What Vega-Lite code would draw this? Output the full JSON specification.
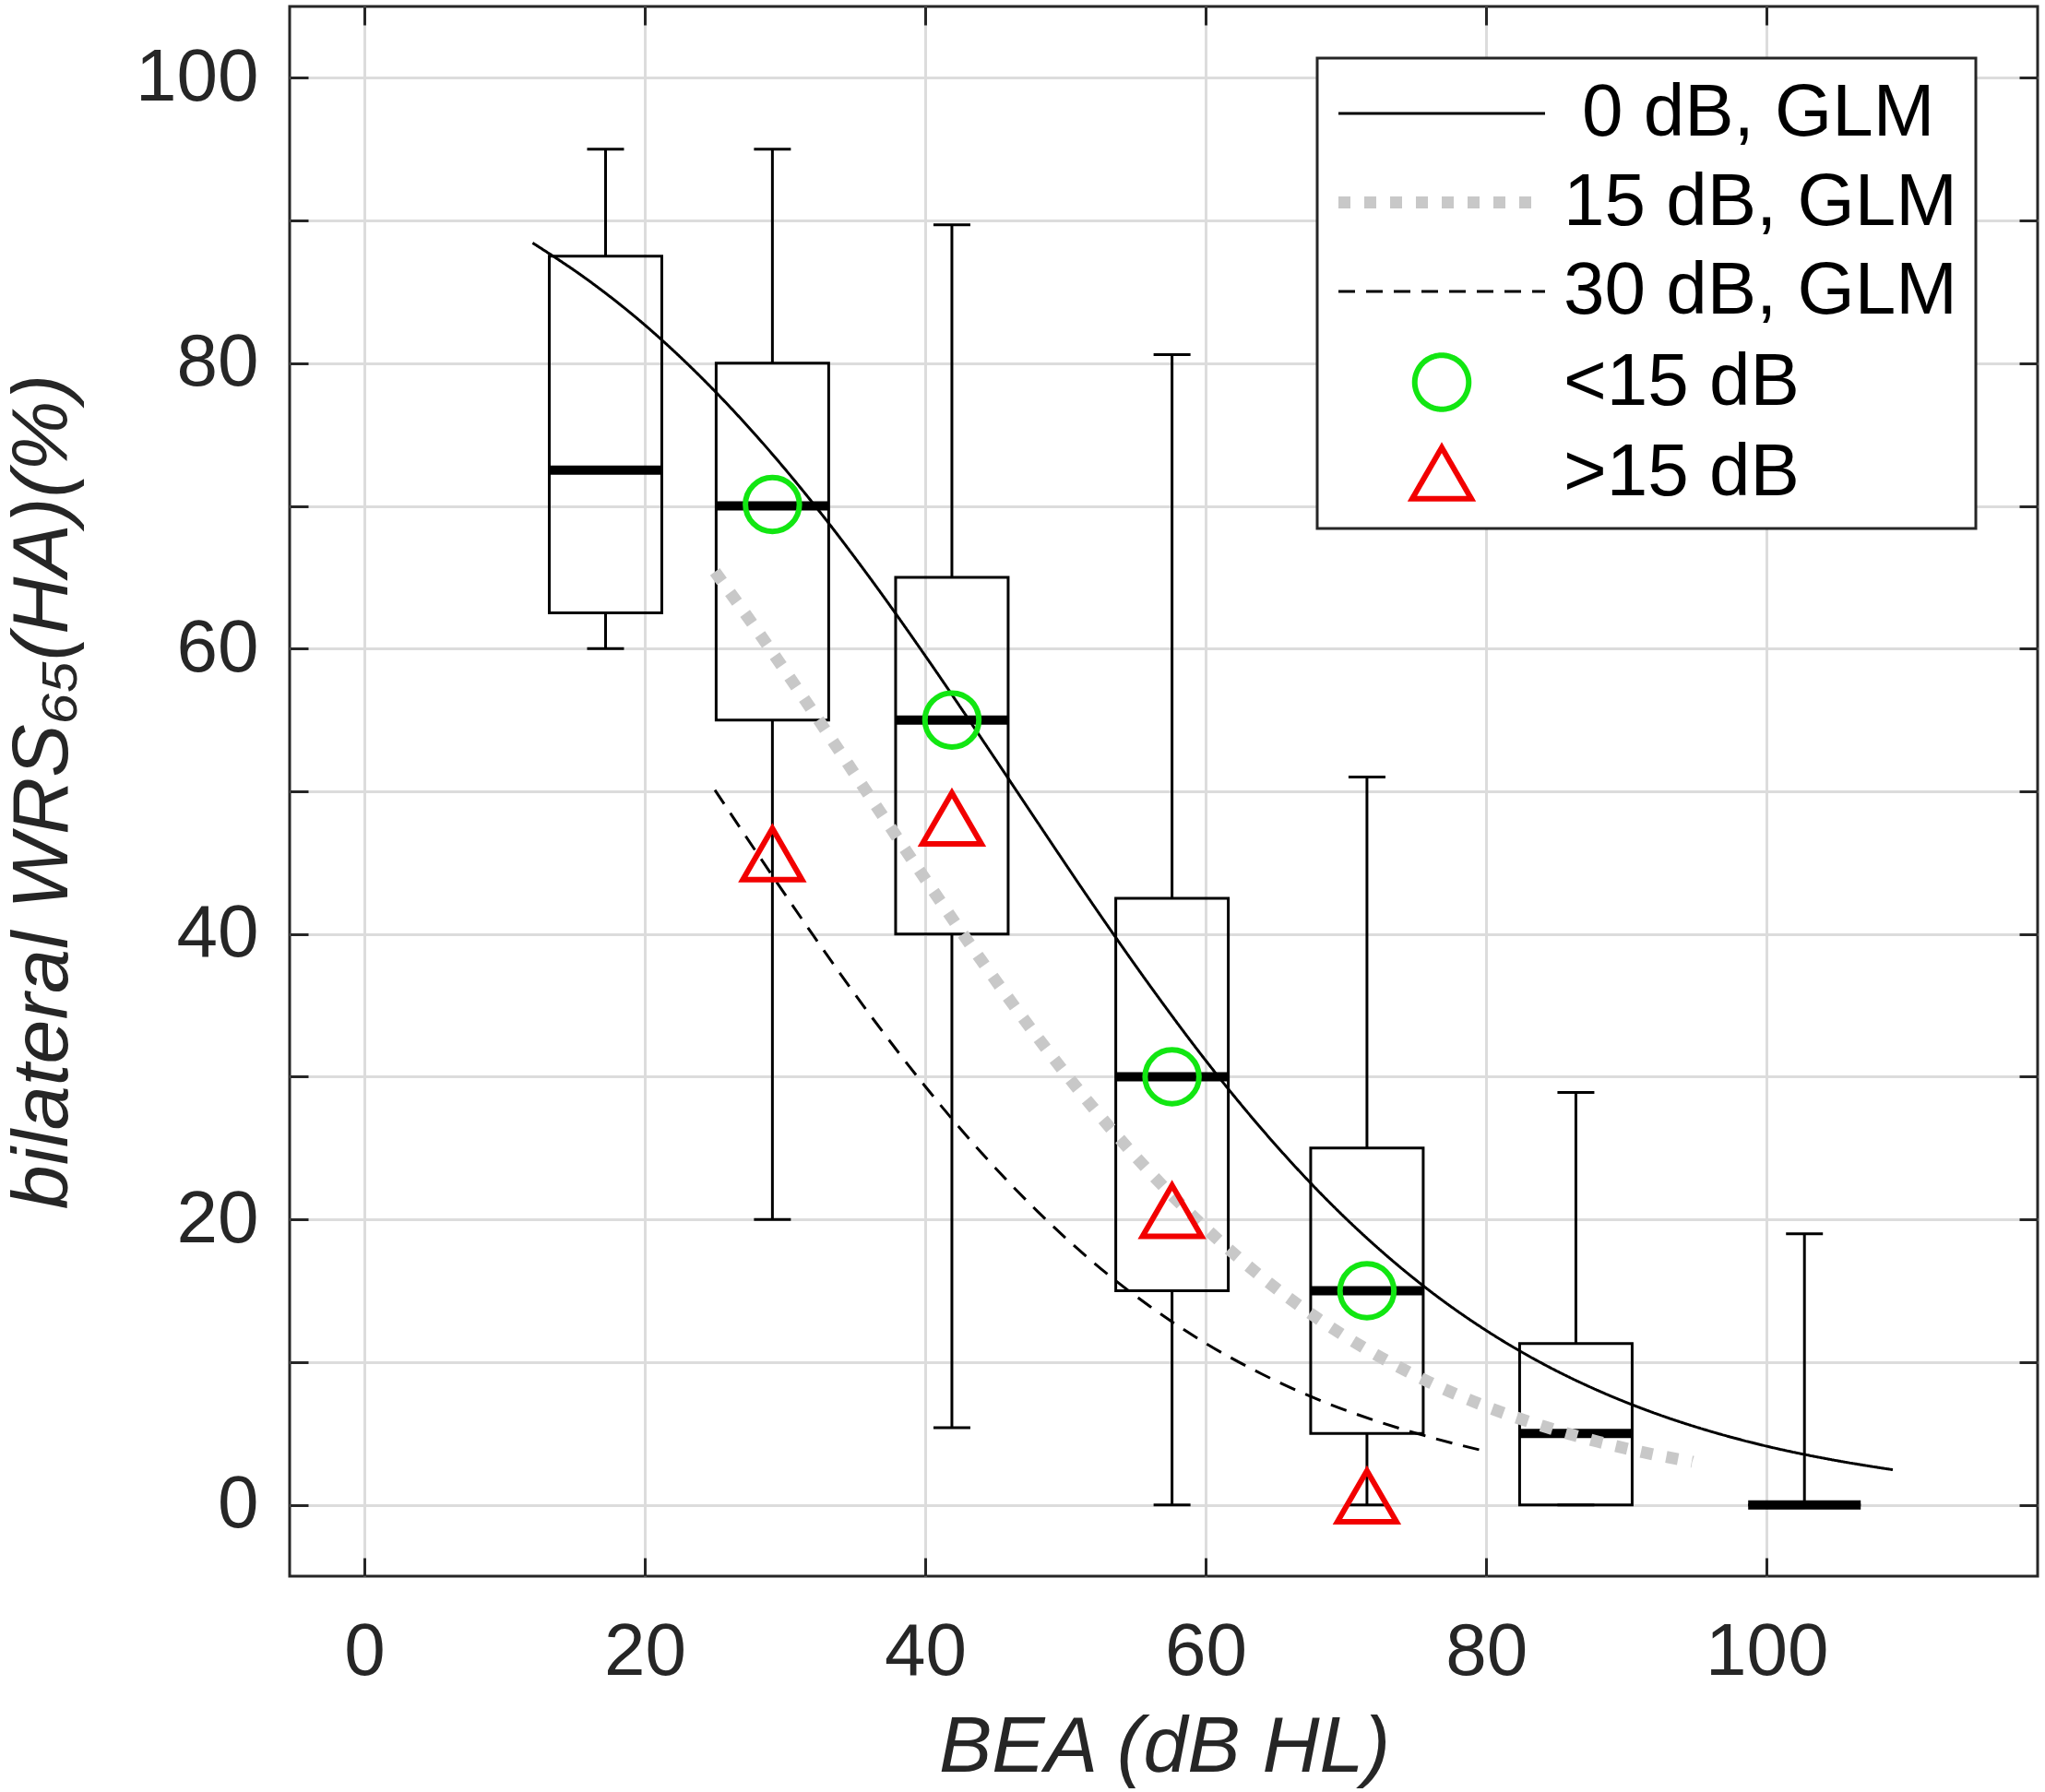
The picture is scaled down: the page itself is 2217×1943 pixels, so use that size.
{
  "$schema": "https://vega.github.io/schema/vega-lite/v6.json",
  "width": 1895,
  "height": 1702,
  "autosize": {"type": "none"},
  "padding": {"left": 314, "top": 7, "right": 8, "bottom": 234},
  "background": "white",
  "datasets": {
    "boxes": [
      {"bea": 17.2, "lo": 60, "q1": 62.5, "med": 72.5, "q3": 87.5, "hi": 95},
      {"bea": 29.1, "lo": 20, "q1": 55, "med": 70, "q3": 80, "hi": 95},
      {"bea": 41.9, "lo": 5.4, "q1": 40, "med": 55, "q3": 65, "hi": 89.7},
      {"bea": 57.6, "lo": 0, "q1": 15, "med": 30, "q3": 42.5, "hi": 80.6},
      {"bea": 71.5, "lo": 0, "q1": 5, "med": 15, "q3": 25, "hi": 51},
      {"bea": 86.4, "lo": 0, "q1": 0, "med": 5, "q3": 11.3, "hi": 28.9},
      {"bea": 102.7, "lo": 0, "q1": 0, "med": 0, "q3": 0, "hi": 19}
    ],
    "markers": [
      {"series": "<15 dB", "bea": 29.1, "wrs": 70.1},
      {"series": "<15 dB", "bea": 41.9, "wrs": 55},
      {"series": "<15 dB", "bea": 57.6, "wrs": 30},
      {"series": "<15 dB", "bea": 71.5, "wrs": 15},
      {"series": ">15 dB", "bea": 29.1, "wrs": 45.6},
      {"series": ">15 dB", "bea": 41.9, "wrs": 48.1},
      {"series": ">15 dB", "bea": 57.6, "wrs": 20.6},
      {"series": ">15 dB", "bea": 71.5, "wrs": 0.6}
    ],
    "curves": [
      {"series": "0 dB, GLM", "bea": 12, "wrs": 88.43},
      {"series": "0 dB, GLM", "bea": 16, "wrs": 85.79},
      {"series": "0 dB, GLM", "bea": 20, "wrs": 82.68},
      {"series": "0 dB, GLM", "bea": 24, "wrs": 79.03},
      {"series": "0 dB, GLM", "bea": 28, "wrs": 74.86},
      {"series": "0 dB, GLM", "bea": 32, "wrs": 70.18},
      {"series": "0 dB, GLM", "bea": 36, "wrs": 65.03},
      {"series": "0 dB, GLM", "bea": 40, "wrs": 59.5},
      {"series": "0 dB, GLM", "bea": 44, "wrs": 53.72},
      {"series": "0 dB, GLM", "bea": 48, "wrs": 47.84},
      {"series": "0 dB, GLM", "bea": 52, "wrs": 42.01},
      {"series": "0 dB, GLM", "bea": 56, "wrs": 36.41},
      {"series": "0 dB, GLM", "bea": 60, "wrs": 31.14},
      {"series": "0 dB, GLM", "bea": 64, "wrs": 26.33},
      {"series": "0 dB, GLM", "bea": 68, "wrs": 22.02},
      {"series": "0 dB, GLM", "bea": 72, "wrs": 18.24},
      {"series": "0 dB, GLM", "bea": 76, "wrs": 14.98},
      {"series": "0 dB, GLM", "bea": 80, "wrs": 12.22},
      {"series": "0 dB, GLM", "bea": 84, "wrs": 9.91},
      {"series": "0 dB, GLM", "bea": 88, "wrs": 8.0},
      {"series": "0 dB, GLM", "bea": 92, "wrs": 6.43},
      {"series": "0 dB, GLM", "bea": 96, "wrs": 5.15},
      {"series": "0 dB, GLM", "bea": 100, "wrs": 4.11},
      {"series": "0 dB, GLM", "bea": 104, "wrs": 3.28},
      {"series": "0 dB, GLM", "bea": 108, "wrs": 2.61},
      {"series": "0 dB, GLM", "bea": 109, "wrs": 2.46},
      {"series": "15 dB, GLM", "bea": 25, "wrs": 65.39},
      {"series": "15 dB, GLM", "bea": 28, "wrs": 61.29},
      {"series": "15 dB, GLM", "bea": 32, "wrs": 55.57},
      {"series": "15 dB, GLM", "bea": 36, "wrs": 49.7},
      {"series": "15 dB, GLM", "bea": 40, "wrs": 43.85},
      {"series": "15 dB, GLM", "bea": 44, "wrs": 38.15},
      {"series": "15 dB, GLM", "bea": 48, "wrs": 32.77},
      {"series": "15 dB, GLM", "bea": 52, "wrs": 27.8},
      {"series": "15 dB, GLM", "bea": 56, "wrs": 23.33},
      {"series": "15 dB, GLM", "bea": 60, "wrs": 19.38},
      {"series": "15 dB, GLM", "bea": 64, "wrs": 15.96},
      {"series": "15 dB, GLM", "bea": 68, "wrs": 13.05},
      {"series": "15 dB, GLM", "bea": 72, "wrs": 10.6},
      {"series": "15 dB, GLM", "bea": 76, "wrs": 8.57},
      {"series": "15 dB, GLM", "bea": 80, "wrs": 6.89},
      {"series": "15 dB, GLM", "bea": 84, "wrs": 5.53},
      {"series": "15 dB, GLM", "bea": 88, "wrs": 4.42},
      {"series": "15 dB, GLM", "bea": 92, "wrs": 3.52},
      {"series": "15 dB, GLM", "bea": 94.7, "wrs": 3.02},
      {"series": "30 dB, GLM", "bea": 25, "wrs": 50.09},
      {"series": "30 dB, GLM", "bea": 28, "wrs": 45.68},
      {"series": "30 dB, GLM", "bea": 32, "wrs": 39.92},
      {"series": "30 dB, GLM", "bea": 36, "wrs": 34.42},
      {"series": "30 dB, GLM", "bea": 40, "wrs": 29.32},
      {"series": "30 dB, GLM", "bea": 44, "wrs": 24.68},
      {"series": "30 dB, GLM", "bea": 48, "wrs": 20.57},
      {"series": "30 dB, GLM", "bea": 52, "wrs": 16.98},
      {"series": "30 dB, GLM", "bea": 56, "wrs": 13.92},
      {"series": "30 dB, GLM", "bea": 60, "wrs": 11.32},
      {"series": "30 dB, GLM", "bea": 64, "wrs": 9.17},
      {"series": "30 dB, GLM", "bea": 68, "wrs": 7.38},
      {"series": "30 dB, GLM", "bea": 72, "wrs": 5.93},
      {"series": "30 dB, GLM", "bea": 76, "wrs": 4.74},
      {"series": "30 dB, GLM", "bea": 80, "wrs": 3.74}
    ]
  },
  "layer": [
    {
      "layer": [
        {
          "data": {"name": "boxes"},
          "mark": {"type": "bar", "size": 122, "fillOpacity": 0, "stroke": "black", "strokeWidth": 3},
          "encoding": {
            "x": {
              "field": "bea", "type": "quantitative",
              "scale": {"domain": [-5, 119], "nice": false, "zero": false},
              "axis": {
                "orient": "bottom",
                "values": [0, 20, 40, 60, 80, 100],
                "title": "BEA (dB HL)",
                "labelBaseline": "alphabetic",
                "labelPadding": 126,
                "titleX": 948,
                "titleY": 211,
                "titleAlign": "center",
                "titleBaseline": "alphabetic"
              }
            },
            "y": {
              "field": "q1", "type": "quantitative",
              "scale": {"domain": [-5, 105], "nice": false, "zero": false},
              "axis": {
                "orient": "left",
                "values": [0, 10, 20, 30, 40, 50, 60, 70, 80, 90, 100],
                "labelExpr": "datum.value % 20 === 0 ? datum.label : ''",
                "title": "bilateral WRS₆₅(HA)(%)",
                "labelAlign": "right",
                "labelBaseline": "middle",
                "labelPadding": 54,
                "titleAngle": 270,
                "titleX": -242,
                "titleY": 851,
                "titleAlign": "center",
                "titleBaseline": "alphabetic"
              }
            },
            "y2": {"field": "q3"}
          }
        },
        {
          "data": {"name": "boxes"},
          "mark": {"type": "rule", "color": "black", "strokeWidth": 3},
          "encoding": {
            "x": {"field": "bea", "type": "quantitative"},
            "y": {"field": "q3", "type": "quantitative"},
            "y2": {"field": "hi"}
          }
        },
        {
          "data": {"name": "boxes"},
          "mark": {"type": "rule", "color": "black", "strokeWidth": 3},
          "encoding": {
            "x": {"field": "bea", "type": "quantitative"},
            "y": {"field": "lo", "type": "quantitative"},
            "y2": {"field": "q1"}
          }
        },
        {
          "data": {"name": "boxes"},
          "mark": {"type": "tick", "orient": "horizontal", "size": 40, "thickness": 3, "color": "black", "opacity": 1},
          "encoding": {
            "x": {"field": "bea", "type": "quantitative"},
            "y": {"field": "hi", "type": "quantitative"}
          }
        },
        {
          "data": {"name": "boxes"},
          "mark": {"type": "tick", "orient": "horizontal", "size": 40, "thickness": 3, "color": "black", "opacity": 1},
          "encoding": {
            "x": {"field": "bea", "type": "quantitative"},
            "y": {"field": "lo", "type": "quantitative"}
          }
        },
        {
          "data": {"name": "boxes"},
          "mark": {"type": "tick", "orient": "horizontal", "size": 122, "thickness": 10, "color": "black", "opacity": 1},
          "encoding": {
            "x": {"field": "bea", "type": "quantitative"},
            "y": {"field": "med", "type": "quantitative"}
          }
        },
        {
          "data": {"name": "curves"},
          "mark": {"type": "line", "interpolate": "monotone"},
          "encoding": {
            "x": {"field": "bea", "type": "quantitative"},
            "y": {"field": "wrs", "type": "quantitative"},
            "color": {
              "field": "series", "type": "nominal",
              "scale": {
                "domain": ["0 dB, GLM", "15 dB, GLM", "30 dB, GLM", "<15 dB", ">15 dB"],
                "range": ["black", "#c8c8c8", "black", "#12e612", "#f20000"]
              },
              "legend": {
                "title": null,
                "symbolSize": 50176,
                "labelOffset": 167,
                "rowPadding": 16.5,
                "encode": {
                  "labels": {
                    "update": {
                      "dx": {"signal": "datum.value === '0 dB, GLM' ? 20 : 0"}
                    }
                  },
                  "symbols": {
                    "update": {
                      "x": {"value": 115},
                      "shape": {"signal": "datum.value === '<15 dB' ? 'circle' : datum.value === '>15 dB' ? 'triangle-up' : 'stroke'"},
                      "size": {"signal": "datum.value === '<15 dB' ? 3421 : datum.value === '>15 dB' ? 4096 : 50176"},
                      "strokeWidth": {"signal": "datum.value === '15 dB, GLM' ? 13 : (datum.value === '<15 dB' || datum.value === '>15 dB') ? 6 : 3"},
                      "strokeDash": {"signal": "datum.value === '15 dB, GLM' ? [13, 15] : datum.value === '30 dB, GLM' ? [18, 12] : [1, 0]"},
                      "stroke": {"signal": "datum.value === '15 dB, GLM' ? '#c8c8c8' : datum.value === '<15 dB' ? '#12e612' : datum.value === '>15 dB' ? '#f20000' : 'black'"},
                      "fill": {"value": "transparent"},
                      "opacity": {"value": 1}
                    }
                  }
                }
              }
            },
            "strokeDash": {
              "field": "series", "type": "nominal",
              "scale": {
                "domain": ["0 dB, GLM", "15 dB, GLM", "30 dB, GLM"],
                "range": [[1, 0], [13, 15], [18, 12]]
              },
              "legend": null
            },
            "strokeWidth": {
              "field": "series", "type": "ordinal",
              "scale": {
                "type": "ordinal",
                "domain": ["0 dB, GLM", "15 dB, GLM", "30 dB, GLM"],
                "range": [3, 13, 3]
              },
              "legend": null
            }
          }
        },
        {
          "data": {"name": "markers"},
          "mark": {"type": "point", "filled": false, "opacity": 1, "strokeWidth": 6},
          "encoding": {
            "x": {"field": "bea", "type": "quantitative"},
            "y": {"field": "wrs", "type": "quantitative"},
            "color": {"field": "series", "type": "nominal"},
            "shape": {
              "field": "series", "type": "nominal",
              "scale": {
                "domain": ["<15 dB", ">15 dB"],
                "range": ["circle", "triangle-up"]
              },
              "legend": null
            },
            "size": {
              "field": "series", "type": "ordinal",
              "scale": {
                "type": "ordinal",
                "domain": ["<15 dB", ">15 dB"],
                "range": [3421, 4096]
              },
              "legend": null
            }
          }
        }
      ]
    },
    {
      "data": {"name": "boxes"},
      "mark": {"type": "point", "opacity": 0},
      "encoding": {
        "x": {
          "field": "bea", "type": "quantitative",
          "axis": {"orient": "top", "values": [0, 20, 40, 60, 80, 100], "labels": false, "grid": false, "title": null}
        },
        "y": {
          "field": "med", "type": "quantitative",
          "axis": {"orient": "right", "values": [0, 10, 20, 30, 40, 50, 60, 70, 80, 90, 100], "labels": false, "grid": false, "title": null}
        }
      }
    }
  ],
  "resolve": {"axis": {"x": "independent", "y": "independent"}},
  "config": {
    "font": "Liberation Sans",
    "view": {"stroke": "#262626", "strokeWidth": 3},
    "axis": {
      "domain": false,
      "grid": true,
      "gridColor": "#dcdcdc",
      "gridWidth": 3,
      "tickColor": "#262626",
      "tickWidth": 3,
      "tickSize": -20,
      "labelFont": "Liberation Sans",
      "labelFontSize": 80,
      "labelColor": "#262626",
      "labelFlush": false,
      "labelOverlap": false,
      "titleFont": "Liberation Sans",
      "titleFontSize": 86,
      "titleFontStyle": "italic",
      "titleFontWeight": "normal",
      "titleColor": "#262626"
    },
    "legend": {
      "orient": "none",
      "legendX": 1114,
      "legendY": 56,
      "padding": 20,
      "strokeColor": "#262626",
      "strokeWidth": 3,
      "fillColor": "white",
      "labelFont": "Liberation Sans",
      "labelFontSize": 80,
      "labelColor": "black",
      "labelLimit": 1000,
      "labelOffset": 12
    }
  }
}
